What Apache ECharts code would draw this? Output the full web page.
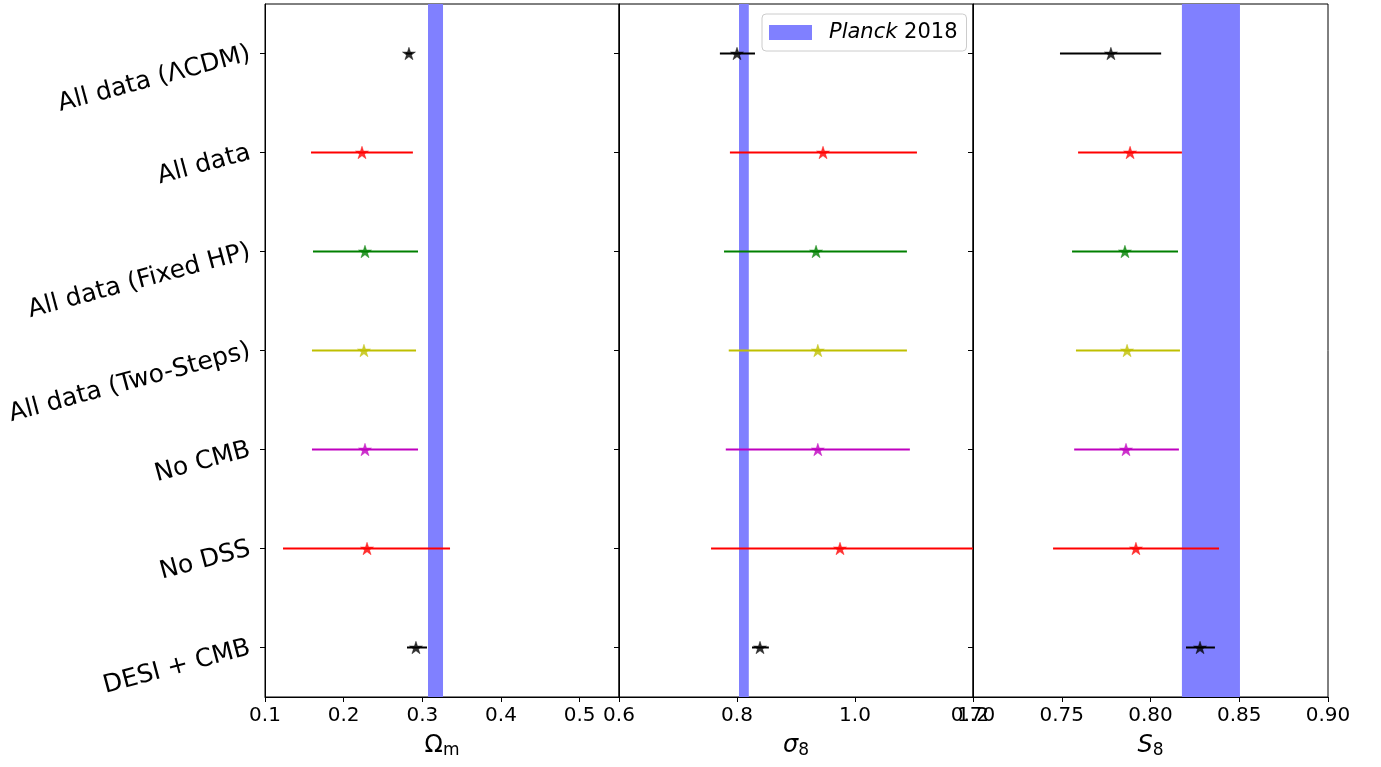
<!DOCTYPE html>
<html>
<head>
<meta charset="utf-8">
<script src="https://cdn.jsdelivr.net/npm/echarts@6/dist/echarts.min.js"></script>
<style>
html,body{margin:0;padding:0;background:#fff;}
#chart{width:1381px;height:767px;}
</style>
</head>
<body>
<div id="chart"></div>
<script>
// ---- data ----
const rowLabels = ['All data (ΛCDM)', 'All data', 'All data (Fixed HP)', 'All data (Two-Steps)', 'No CMB', 'No DSS', 'DESI + CMB'];
const rowColors = ['#000000', '#ff0000', '#008000', '#bfbf00', '#bf00bf', '#ff0000', '#000000'];

const omCenter = [0.283, 0.2233, 0.2271, 0.2258, 0.2271, 0.2297, 0.2919];
const omLow    = [0.279, 0.1585, 0.1610, 0.1597, 0.1597, 0.1229, 0.2805];
const omHigh   = [0.287, 0.2880, 0.2945, 0.2920, 0.2945, 0.3352, 0.3059];

const s8sigCenter = [0.800, 0.9458, 0.934, 0.937, 0.937, 0.9746, 0.839];
const s8sigLow    = [0.771, 0.788, 0.778, 0.786, 0.781, 0.756, 0.8254];
const s8sigHigh   = [0.8305, 1.105, 1.088, 1.088, 1.093, 1.25, 0.854];

const S8Center = [0.7777, 0.7885, 0.7856, 0.7868, 0.7862, 0.7918, 0.8279];
const S8Low    = [0.7490, 0.7592, 0.7558, 0.7580, 0.7570, 0.7451, 0.8200];
const S8High   = [0.8060, 0.8177, 0.8155, 0.8166, 0.8160, 0.8386, 0.8363];

const planckOm = [0.3072, 0.3263];
const planckSigma8 = [0.8034, 0.8200];
const planckS8 = [0.8177, 0.8504];

const xMins = [0.1, 0.6, 0.70];
const xMaxs = [0.55, 1.2, 0.90];
const xIntervals = [0.1, 0.2, 0.05];
const xDecimals = [1, 1, 2];

// ---- build ----
const panels = [
  {c: omCenter, lo: omLow, hi: omHigh, band: planckOm},
  {c: s8sigCenter, lo: s8sigLow, hi: s8sigHigh, band: planckSigma8},
  {c: S8Center, lo: S8Low, hi: S8High, band: planckS8}
];
const lefts = [265, 619, 973];
const widths = [354, 354, 355];
const TOP = 4, HEIGHT = 693;
const FONT = 'DejaVu Sans';

const starPath = 'path://M1000 0 L1224.5 691 L1951 691 L1363 1118 L1588 1809 L1000 1382 L412 1809 L637 1118 L49 691 L775.5 691 Z';

const grids = [], xAxes = [], yAxes = [], series = [];
const names = [
  {name: '{a|Ω}{s|m}', rich: {a: {fontSize: 24, fontFamily: FONT, color: '#000'}, s: {fontSize: 17, fontFamily: FONT, color: '#000', padding: [9, 0, 0, 0]}}},
  {name: '{a|σ}{s|8}', rich: {a: {fontSize: 24, fontFamily: FONT, fontStyle: 'italic', color: '#000'}, s: {fontSize: 17, fontFamily: FONT, color: '#000', padding: [9, 0, 0, 0]}}},
  {name: '{a|S}{s|8}', rich: {a: {fontSize: 24, fontFamily: FONT, fontStyle: 'italic', color: '#000'}, s: {fontSize: 17, fontFamily: FONT, color: '#000', padding: [9, 0, 0, 0]}}}
];

panels.forEach((p, i) => {
  grids.push({left: lefts[i], top: TOP, width: widths[i], height: HEIGHT, show: true, borderColor: '#000', borderWidth: 1, backgroundColor: 'transparent'});
  const dec = xDecimals[i];
  xAxes.push({
    type: 'value', gridIndex: i, min: xMins[i], max: xMaxs[i], interval: xIntervals[i],
    splitLine: {show: false},
    axisLine: {show: true, onZero: false, lineStyle: {color: '#000', width: 1}},
    axisTick: {show: true, length: 5, lineStyle: {color: '#000'}},
    axisLabel: {show: true, fontSize: 20, fontFamily: FONT, color: '#000', margin: 9, showMaxLabel: i !== 0,
      formatter: v => Number(v).toFixed(dec)},
    name: names[i].name, nameLocation: 'middle', nameGap: 36,
    nameTextStyle: {rich: names[i].rich}
  });
  yAxes.push({
    type: 'category', gridIndex: i, data: rowLabels, inverse: true,
    boundaryGap: true,
    axisLine: {show: true, lineStyle: {color: '#000', width: 1}},
    axisTick: {show: true, alignWithLabel: true, length: 5, lineStyle: {color: '#000'}},
    splitLine: {show: false},
    axisLabel: {show: i === 0, rotate: 15, fontSize: 25, fontFamily: FONT, color: '#000', margin: 15, interval: 0,
      padding: [8, 0, 0, 0]}
  });

  // Planck band
  series.push({
    type: 'custom', name: 'Planck 2018', xAxisIndex: i, yAxisIndex: i, z: 1,
    itemStyle: {color: '#8080ff'},
    encode: {x: [0, 1]},
    data: [[p.band[0], p.band[1]]],
    renderItem: function (params, api) {
      const cs = params.coordSys;
      const x0 = api.coord([api.value(0), 0])[0];
      const x1 = api.coord([api.value(1), 0])[0];
      return {type: 'rect', shape: {x: x0, y: cs.y, width: x1 - x0, height: cs.height}, style: {fill: '#8080ff'}};
    },
    silent: true
  });

  // error bars
  const ebData = rowLabels.map((_, r) => [p.lo[r], p.hi[r], r]);
  series.push({
    type: 'custom', xAxisIndex: i, yAxisIndex: i, z: 2,
    encode: {x: [0, 1], y: 2},
    data: ebData,
    renderItem: function (params, api) {
      const cs = params.coordSys;
      const r = api.value(2);
      const a = api.coord([api.value(0), r]);
      const b = api.coord([api.value(1), r]);
      const xa = Math.max(cs.x, Math.min(cs.x + cs.width, a[0]));
      const xb = Math.max(cs.x, Math.min(cs.x + cs.width, b[0]));
      return {type: 'line', shape: {x1: xa, y1: a[1], x2: xb, y2: b[1]}, style: {stroke: rowColors[r], lineWidth: 2}};
    },
    silent: true
  });

  // stars
  series.push({
    type: 'scatter', xAxisIndex: i, yAxisIndex: i, z: 3,
    symbol: starPath, symbolSize: [13, 12.5],
    data: rowLabels.map((_, r) => ({value: [p.c[r], r], itemStyle: {color: rowColors[r], borderColor: rowColors[r], borderWidth: 0.5}})),
    silent: true
  });
});

const chart = echarts.init(document.getElementById('chart'), null, {renderer: 'canvas'});
chart.setOption({
  animation: false,
  backgroundColor: '#fff',
  grid: grids,
  xAxis: xAxes,
  yAxis: yAxes,
  legend: {
    data: [{name: 'Planck 2018', icon: 'rect', itemStyle: {color: '#8080ff'}}],
    left: 762, top: 14,
    padding: [8, 9, 8, 7],
    itemWidth: 43, itemHeight: 15,
    borderColor: '#cccccc', borderWidth: 1, borderRadius: 4,
    backgroundColor: 'rgba(255,255,255,0.8)',
    selectedMode: false,
    formatter: () => '{i|Planck} 2018',
    textStyle: {fontSize: 21, fontFamily: FONT, color: '#000', padding: [0, 0, 0, 12], lineHeight: 21,
      rich: {i: {fontSize: 21, fontFamily: FONT, fontStyle: 'italic', color: '#000', lineHeight: 21}}}
  },
  series: series
});
</script>
</body>
</html>
